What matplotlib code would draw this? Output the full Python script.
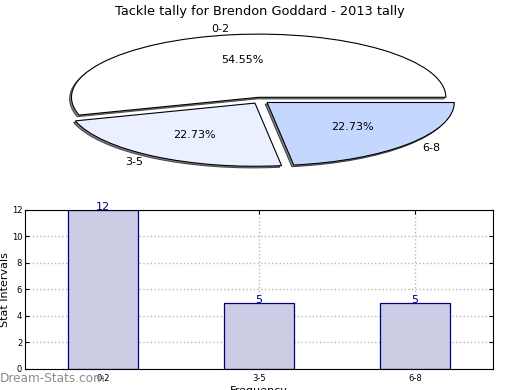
import matplotlib
matplotlib.use('Agg')
from matplotlib import pyplot as plt

##### DATA #####
title = 'Tackle tally for Brendon Goddard - 2013 tally'
labels = ['0-2', '3-5', '6-8']
counts = [12, 5, 5]
pie_colors = ['#FFFFFF', '#EAF0FF', '#C4D8FF']
##### END DATA #####

fig = plt.figure(figsize=(5.2, 3.9), dpi=100)

# pie on top, squashed into an ellipse
ax1 = fig.add_axes([0.05, 0.54, 0.9, 0.405])
ax1.pie(counts, labels=labels, colors=pie_colors, explode=(0.05, 0.05, 0.05),
        autopct='%.2f%%', startangle=0, labeldistance=1.1,
        shadow=dict(ox=-0.007, oy=-0.018, facecolor='#8a8a8a', alpha=1.0),
        wedgeprops=dict(edgecolor='black', linewidth=0.8),
        textprops=dict(fontsize=8))
ax1.set_aspect('auto')
ax1.set_xlim(-1.25, 1.25)
ax1.set_ylim(-1.25, 1.25)
ax1.set_axis_off()
fig.text(0.5, 0.988, title, ha='center', va='top', fontsize=9.3)

# bar chart below
ax2 = fig.add_axes([0.048, 0.054, 0.9, 0.408])
x = range(len(labels))
bars = ax2.bar(x, counts, width=0.45, color='#CCCCE5', edgecolor='#000080', linewidth=0.9, zorder=2)
for xi, c in zip(x, counts):
    ax2.text(xi, c, str(c), ha='center', va='baseline', color='#000080', fontsize=8)
ax2.set_xlim(-0.5, 2.5)
ax2.set_ylim(0, 12)
ax2.set_yticks(range(0, 13, 2))
ax2.set_xticks(list(x))
ax2.set_xticklabels(labels)
ax2.tick_params(direction='in', labelsize=6, length=3, top=True, right=True, pad=2)
ax2.tick_params(axis='x', pad=4)
ax2.grid(True, linestyle=':', color='#b8b8b8', linewidth=1.0, zorder=0)
ax2.set_axisbelow(True)
ax2.set_ylabel('Stat Intervals', fontsize=8, labelpad=1.5)
ax2.set_xlabel('Frequency', fontsize=8, labelpad=2)

fig.text(0.0, 0.012, 'Dream-Stats.com', color='#8c8c8c', fontsize=8.7,
         ha='left', va='bottom')

fig.savefig('out.png', dpi=100)
